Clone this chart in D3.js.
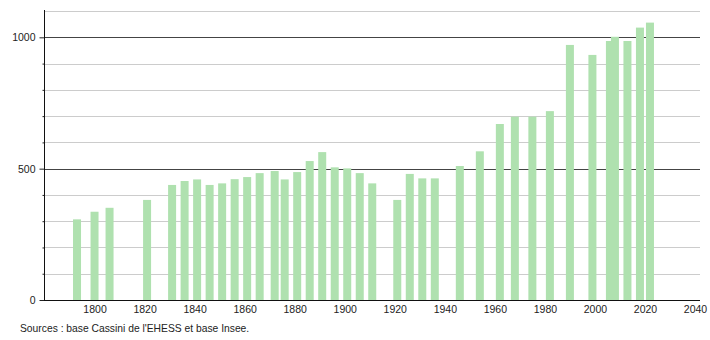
<!DOCTYPE html>
<html>
<head>
<meta charset="utf-8">
<script src="https://cdn.jsdelivr.net/npm/d3@7"></script>
<style>
  html, body { margin: 0; padding: 0; background: #fff; }
  svg { display: block; }
  text { font-family: "Liberation Sans", Arial, sans-serif; fill: #222; }
</style>
</head>
<body>
<svg id="chart" width="710" height="340"></svg>
<script>
const years = [1793,1800,1806,1821,1831,1836,1841,1846,1851,1856,1861,1866,1872,1876,1881,1886,1891,1896,1901,1906,1911,1921,1926,1931,1936,1946,1954,1962,1968,1975,1982,1990,1999,2006,2008,2013,2018,2022];
const population = [307,336,351,381,438,453,459,438,444,460,468,483,491,459,487,529,563,505,501,483,444,381,480,463,463,510,566,670,698,698,719,971,933,986,1002,986,1037,1056];
const xTicks = [1800,1820,1840,1860,1880,1900,1920,1940,1960,1980,2000,2020,2040];
const yMajorTicks = [0,500,1000];
const yGridValues = [100,200,300,400,500,600,700,800,900,1000,1100];
const sourceText = "Sources : base Cassini de l'EHESS et base Insee.";

const data = years.map((yr, i) => ({ year: yr, value: population[i] }));

const svg = d3.select("#chart");
const mLeft = 44, mRight = 700, mTop = 10, mBottom = 300;

const x = d3.scaleLinear().domain([1780, 2042]).range([44.5, 700]);
const y = d3.scaleLinear().domain([0, 1104]).range([mBottom, mTop]);

// gridlines
svg.append("g").selectAll("line").data(yGridValues).join("line")
  .attr("x1", mLeft).attr("x2", mRight)
  .attr("y1", d => Math.round(y(d)) + 0.5).attr("y2", d => Math.round(y(d)) + 0.5)
  .attr("stroke", d => d % 500 === 0 ? "#444" : "#cccccc")
  .attr("stroke-width", 1);

// bars
const barW = 8;
svg.append("g").selectAll("rect").data(data).join("rect")
  .attr("x", d => x(d.year) - barW / 2)
  .attr("width", barW)
  .attr("y", d => y(d.value))
  .attr("height", d => y(0) - y(d.value))
  .attr("fill", "#afe1af");

// y axis
const yAxisMinor = d3.axisLeft(y).tickValues(yGridValues.filter(d => d % 500 !== 0 && d < 1100)).tickSize(2).tickFormat("");
svg.append("g").attr("transform", `translate(${mLeft + 0.5},0)`).call(yAxisMinor)
  .call(g => g.select(".domain").remove())
  .call(g => g.selectAll("line").attr("stroke", "#222"));
const yAxis = d3.axisLeft(y).tickValues(yMajorTicks).tickSize(5).tickPadding(4).tickFormat(d3.format("d"));
svg.append("g").attr("transform", `translate(${mLeft + 0.5},0)`).call(yAxis)
  .call(g => g.select(".domain").remove())
  .call(g => g.selectAll("line").attr("stroke", "#222"))
  .call(g => g.selectAll("text").attr("font-size", 10.5).attr("font-family", "Liberation Sans, Arial, sans-serif").attr("fill", "#222"));
svg.append("line").attr("x1", mLeft + 0.5).attr("x2", mLeft + 0.5).attr("y1", mTop).attr("y2", mBottom + 0.5).attr("stroke", "#111");

// x axis
const xAxis = d3.axisBottom(x).tickValues(xTicks).tickSize(0).tickPadding(5).tickFormat(d3.format("d"));
svg.append("g").attr("transform", `translate(0,${mBottom + 0.5})`).call(xAxis)
  .call(g => g.select(".domain").remove())
  .call(g => g.selectAll("text").attr("font-size", 10.5).attr("font-family", "Liberation Sans, Arial, sans-serif").attr("fill", "#222"));
svg.append("line").attr("x1", mLeft).attr("x2", mRight).attr("y1", mBottom + 0.5).attr("y2", mBottom + 0.5).attr("stroke", "#111");

// source
svg.append("text").attr("x", 20).attr("y", 331.5).attr("font-size", 10.3).text(sourceText);
</script>
</body>
</html>
